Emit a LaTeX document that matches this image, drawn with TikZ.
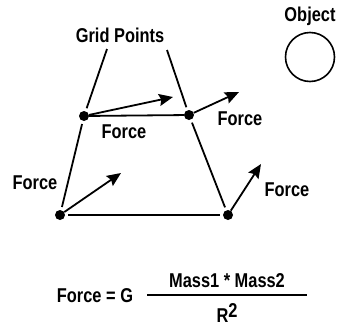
\documentclass[tikz,border=0pt]{standalone}
\usepackage{fontspec}
\setmainfont{Liberation Sans}[FakeStretch=0.82]
\usetikzlibrary{arrows.meta}
\begin{document}
\begin{tikzpicture}[x=1pt,y=-1pt,
  lbl/.style={font=\bfseries\fontsize{20}{22}\selectfont, inner sep=0pt},
  dot/.style={circle,fill=black,inner sep=0pt,minimum size=10pt},
  edge/.style={line width=1.8pt},
  force/.style={line width=1.8pt,-{Stealth[length=14pt,width=12pt,inset=2pt]}}]
\useasboundingbox (0,0) rectangle (337,327);
\node[dot] (tl) at (84,116) {};
\node[dot] (tr) at (189,115) {};
\node[dot] (bl) at (60,215) {};
\node[dot] (br) at (228,215) {};
\node[lbl] (gp) at (120,35) {Grid Points};
\node[lbl] (obj) at (310,16) {Object};
\node[circle,draw,line width=1.6pt,minimum size=49pt,inner sep=0pt] (circ) at (310,57) {};
\coordinate (gpl) at (107,49);
\coordinate (gpr) at (167,50);
\draw[edge] (tl) -- (tr);
\draw[edge, shorten <=3pt] (tl) -- (gpl);
\draw[edge, shorten <=3pt] (tr) -- (gpr);
\draw[edge, shorten <=3pt, shorten >=3pt] (tl) -- (bl);
\draw[edge, shorten <=3pt, shorten >=3pt] (tr) -- (br);
\draw[edge, shorten <=3pt, shorten >=3pt] (bl) -- (br);
\coordinate (a1) at (173,97);
\coordinate (a2) at (239,92);
\coordinate (a3) at (121,173);
\coordinate (a4) at (261,164);
\draw[force] (tl) -- (a1);
\draw[force] (tr) -- (a2);
\draw[force] (bl) -- (a3);
\draw[force] (br) -- (a4);
\node[lbl] (f1) at (124,132) {Force};
\node[lbl] (f2) at (240,119) {Force};
\node[lbl] (f3) at (35,183) {Force};
\node[lbl] (f4) at (287,190) {Force};
\node[lbl] (feq) at (95,296) {Force = G};
\node[lbl] (num) at (227,281) {Mass1 * Mass2};
\node[lbl] (den) at (227,313) {R\raisebox{0.55ex}{2}};
\coordinate (fl) at (147,295);
\coordinate (fr) at (307,295);
\draw[line width=1.6pt] (fl) -- (fr);
\end{tikzpicture}
\end{document}
